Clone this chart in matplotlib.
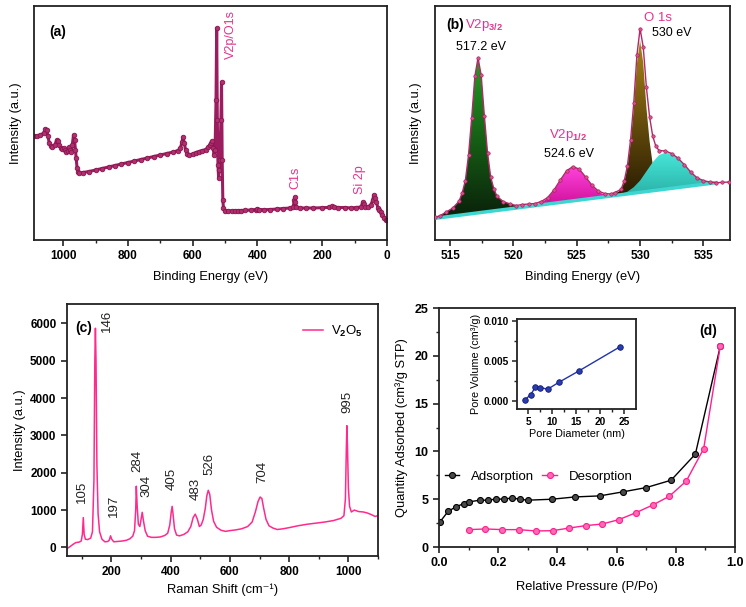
import numpy as np
import matplotlib
matplotlib.use('Agg')
import matplotlib.pyplot as plt
from matplotlib.colors import LinearSegmentedColormap
from matplotlib.ticker import MultipleLocator, FormatStrFormatter

plt.rcParams['font.family'] = ['Liberation Sans', 'DejaVu Sans']
plt.rcParams['font.weight'] = 'bold'
plt.rcParams['mathtext.fontset'] = 'custom'
plt.rcParams['mathtext.rm'] = 'Liberation Sans'
plt.rcParams['mathtext.it'] = 'Liberation Sans:italic'
plt.rcParams['mathtext.bf'] = 'Liberation Sans:bold'

PINK_TXT = '#e5338c'

# ---------------- (a) XPS survey ----------------
survey_ev = [1090, 1080, 1070, 1060, 1055, 1051, 1047, 1043, 1038, 1033, 1026, 1020, 1016,
             1012, 1007, 1003, 998, 994, 990, 986, 982, 978, 975, 972, 968, 965, 962, 960,
             957, 954, 950, 940, 920, 900, 880, 860, 840, 820, 800, 780, 760, 740, 720, 700,
             680, 660, 645, 638, 633, 630, 626, 622, 617, 612, 600, 590, 580, 570, 560, 552,
             547, 543, 540, 537, 534, 531, 528, 526, 524, 522, 520, 518, 516, 513, 511, 509,
             507, 505, 500, 490, 480, 470, 460, 450, 440, 420, 405, 400, 395, 380, 360, 340,
             320, 300, 290, 286, 285, 283, 280, 270, 250, 230, 200, 180, 170, 165, 150, 130,
             110, 95, 80, 75, 72, 68, 60, 50, 44, 41, 38, 33, 28, 24, 20, 15, 8, 3, 0]
survey_int = [104, 104, 105, 107, 111, 110, 104, 97, 94, 93, 95, 100, 99,
              95, 92, 91, 92, 90, 88, 89, 93, 90, 88, 95, 105, 100, 90, 82,
              72, 68, 67, 67.5, 68.5, 70, 71.5, 73, 74.5, 76, 77.5, 79, 80.5, 82, 83.5, 85,
              86.5, 88, 89.5, 92, 98, 103, 97, 90, 86, 85, 86, 87.5, 88.5, 89.5, 90.5, 93,
              95, 97, 99, 92, 85, 90, 140, 211.7, 120, 75, 62, 70, 80, 120, 158, 80,
              40, 32, 29.3, 29, 29.3, 29.3, 29.5, 29.5, 29.7, 30, 30.5, 31.5, 30.5, 30.3, 30.5, 31,
              31.5, 32, 33, 40, 42.7, 38, 33, 32, 32, 32, 32.3, 32.6, 34, 33, 32.5, 32.5,
              32, 32.5, 33, 38, 36, 33, 33, 35, 40, 45, 42, 38, 32, 30, 28, 25, 22, 20, 20]

# ---------------- (b) V2p / O1s high resolution ----------------
base_ev = [513.8, 536.0]
base_int = [21.7, 57.3]

v2p32_ev = [513.8, 514.2, 514.7, 515.2, 515.7, 515.95, 516.2, 516.45, 516.7, 516.95, 517.2,
            517.45, 517.7, 517.95, 518.2, 518.45, 518.7, 519.2, 519.7, 520.2, 520.7]
v2p32_int = [21.7, 24.3, 28.1, 31.9, 38.7, 47.1, 59.5, 84.9, 122.3, 163.7, 182.2,
             164.6, 124.0, 87.4, 62.8, 51.2, 43.6, 38.4, 36.2, 34.0, 32.8]

v2p12_ev = [521.2, 521.7, 522.2, 522.7, 523.2, 523.7, 524.2, 524.7, 525.2, 525.7, 526.2,
            526.7, 527.2, 527.7, 528.2]
v2p12_int = [33.6, 35.0, 37.4, 41.8, 49.5, 59.6, 69.1, 73.5, 70.7, 62.8, 54.3,
             48.2, 45.4, 44.6, 44.8]

o1s_ev = [527.8, 528.0, 528.5, 528.75, 529.0, 529.25, 529.5, 529.75, 530.0, 530.25, 530.5,
          530.75, 531.0, 531.25, 531.5, 532.0, 532.3]
o1s_int = [44.2, 46.0, 49.9, 57.7, 72.1, 96.5, 130.9, 176.3, 199.7, 177.1, 132.5,
           98.9, 75.3, 61.7, 54.7, 52.4, 51.4]

oh_ev = [528.0, 528.5, 529.0, 529.5, 530.0, 530.5, 531.0, 531.5, 532.0, 532.5, 533.0,
         533.5, 534.0, 534.5, 535.0, 535.5, 536.0]
oh_int = [44.5, 46.0, 48.3, 52.8, 59.4, 68.6, 77.8, 84.9, 87.5, 86.5, 81.8,
          75.3, 68.0, 62.2, 59.4, 58.0, 57.3]

env_ev = [513.8, 514.2, 514.7, 515.2, 515.7, 515.95, 516.2, 516.45, 516.7, 516.95, 517.2,
          517.45, 517.7, 517.95, 518.2, 518.45, 518.7, 519.2, 519.7, 520.2, 520.7, 521.2,
          521.7, 522.2, 522.7, 523.2, 523.7, 524.2, 524.7, 525.2, 525.7, 526.2, 526.7,
          527.2, 527.7, 528.0, 528.5, 528.75, 529.0, 529.25, 529.5, 529.75, 530.0, 530.25,
          530.5, 530.75, 531.0, 531.25, 531.5, 532.0, 532.5, 533.0, 533.5, 534.0, 534.5,
          535.0, 535.5, 536.0, 536.5, 537.0]
env_int = [22.7, 24.3, 28.1, 31.9, 38.7, 47.1, 59.5, 84.9, 122.3, 163.7, 182.2,
           164.6, 124.0, 87.4, 62.8, 51.2, 43.6, 38.4, 36.2, 34.5, 35.5, 36.0,
           36.5, 38.5, 42.5, 50.0, 60.0, 69.3, 73.5, 70.8, 63.0, 54.8, 49.0,
           46.5, 46.0, 47.5, 50.6, 59.1, 74.3, 100.3, 136.8, 184.8, 211.4, 192.9,
           152.6, 123.2, 103.8, 93.6, 89.5, 89.0, 86.5, 81.8, 75.3, 68.0, 62.2,
           59.4, 58.0, 57.3, 57.6, 58.0]

# ---------------- (c) Raman ----------------
raman_shift = [50, 60, 70, 80, 90, 98, 102, 105, 108, 112, 120, 130, 136, 141, 144, 146, 148,
               151, 155, 160, 168, 178, 188, 193, 197, 201, 208, 220, 235, 250, 262, 272, 278,
               282, 284, 287, 291, 296, 300, 304, 308, 314, 322, 335, 350, 365, 380, 390, 397,
               402, 405, 408, 413, 420, 430, 445, 458, 468, 476, 483, 490, 497, 503, 510, 517,
               522, 527, 532, 538, 545, 555, 570, 585, 600, 620, 640, 660, 675, 686, 695, 702,
               708, 714, 722, 732, 745, 760, 780, 800, 830, 860, 890, 920, 950, 975, 985, 990,
               993, 995, 997, 1000, 1004, 1010, 1020, 1035, 1050, 1065, 1080, 1090, 1100]
raman_int = [-30, 20, 80, 130, 140, 170, 350, 800, 350, 220, 210, 250, 420, 1800, 5000, 5870, 5000,
             2200, 900, 420, 220, 150, 160, 200, 310, 220, 150, 160, 170, 190, 230, 300, 450,
             1000, 1640, 1100, 620, 560, 750, 940, 720, 450, 300, 270, 270, 280, 320, 380, 600,
             950, 1100, 900, 500, 330, 310, 350, 420, 560, 800, 890, 760, 560, 600, 750, 1050,
             1380, 1530, 1420, 1000, 700, 540, 460, 430, 450, 470, 500, 560, 680, 950, 1230, 1350,
             1310, 1050, 750, 580, 520, 480, 500, 530, 580, 620, 650, 680, 720, 780, 850, 1300,
             2600, 3260, 2700, 1600, 1100, 950, 1000, 960, 950, 920, 870, 830, 850]
peak_labels = ['105', '146', '197', '284', '304', '405', '483', '526', '704', '995']
peak_label_x = [101, 185, 208, 286, 317, 404, 483, 531, 708, 998]
peak_label_y = [1180, 5780, 820, 2030, 1360, 1535, 1270, 1940, 1715, 3590]

# ---------------- (d) N2 isotherm + pore size ----------------
ads_p = [0.003, 0.031, 0.057, 0.084, 0.10, 0.138, 0.166, 0.194, 0.219, 0.247, 0.272, 0.30,
         0.381, 0.459, 0.543, 0.621, 0.70, 0.784, 0.866, 0.95]
ads_q = [2.62, 3.74, 4.2, 4.55, 4.72, 4.9, 4.9, 5.03, 5.0, 5.14, 5.0, 4.9,
         5.0, 5.24, 5.35, 5.77, 6.22, 6.99, 9.72, 20.98]
des_p = [0.10, 0.157, 0.214, 0.269, 0.326, 0.384, 0.44, 0.496, 0.552, 0.608, 0.666, 0.723,
         0.778, 0.835, 0.894, 0.95]
des_q = [1.82, 1.89, 1.82, 1.82, 1.68, 1.71, 1.99, 2.24, 2.41, 2.87, 3.6, 4.41,
         5.31, 6.89, 10.28, 20.98]
pore_d = [4.3, 5.55, 6.5, 7.55, 9.07, 11.4, 15.5, 24.0]
pore_v = [0.00012, 0.00074, 0.0017, 0.00165, 0.00144, 0.0023, 0.0037, 0.0067]


def style(ax, fs=8.5):
    for s in ax.spines.values():
        s.set_linewidth(1.3)
        s.set_color('#222222')
    ax.tick_params(which='major', direction='out', length=4.5, width=1.2,
                   labelsize=fs, pad=3, color='#222222')
    ax.tick_params(which='minor', direction='out', length=2.5, width=1.0, color='#222222')


def grad_fill(ax, x, y, c_top, c_bot, z):
    poly, = ax.fill(x, y, facecolor='none', edgecolor='none', zorder=z)
    cmap = LinearSegmentedColormap.from_list('g', [c_bot, c_top])
    im = ax.imshow(np.linspace(0, 1, 256).reshape(-1, 1), cmap=cmap, aspect='auto',
                   origin='lower', extent=[min(x), max(x), min(y), max(y)], zorder=z)
    im.set_clip_path(poly)


fig = plt.figure(figsize=(7.46, 6.07), dpi=100)

# --- (a)
ax = fig.add_axes([0.0456, 0.6046, 0.4732, 0.3855])
ax.plot(survey_ev, survey_int, '-o', color='#9b1d5f', lw=2.2, ms=3.3,
        mfc='#b0306e', mec='#8a1550', mew=0.6)
ax.set_xlim(1090, 0)
ax.set_ylim(0, 234)
ax.set_yticks([])
ax.xaxis.set_major_locator(MultipleLocator(200))
ax.xaxis.set_minor_locator(MultipleLocator(100))
style(ax)
ax.set_xlabel('Binding Energy (eV)', fontsize=9.3, labelpad=6)
ax.set_ylabel('Intensity (a.u.)', fontsize=9.3, labelpad=9)
ax.text(0.068, 0.889, '(a)', transform=ax.transAxes, fontsize=10, ha='center', va='center')
ax.text(482, 206, 'V2p/O1s', rotation=90, color=PINK_TXT, fontsize=9, weight='normal',
        ha='center', va='center')
ax.text(284, 62, 'C1s', rotation=90, color=PINK_TXT, fontsize=9, weight='normal',
        ha='center', va='center')
ax.text(83, 60, 'Si 2p', rotation=90, color=PINK_TXT, fontsize=9, weight='normal',
        ha='center', va='center')

# --- (b)
ax = fig.add_axes([0.5831, 0.6046, 0.3954, 0.3855])
grad_fill(ax, v2p32_ev, v2p32_int, '#22a022', '#0a200a', 2)
grad_fill(ax, v2p12_ev, v2p12_int, '#ff44dd', '#d0109a', 2)
grad_fill(ax, o1s_ev, o1s_int, '#a88418', '#2a1c02', 2)
grad_fill(ax, oh_ev, oh_int, '#46e6d8', '#2ab0a6', 3)
ax.plot(base_ev, base_int, color='#3ed6d0', lw=2.5, zorder=4)
ax.plot(env_ev, env_int, '-o', color='#b02a68', lw=1.0, ms=2.5,
        mfc='#d8508c', mec='#a01858', mew=0.4, zorder=5)
ax.set_xlim(513.8, 537.1)
ax.set_ylim(0, 234)
ax.set_yticks([])
ax.xaxis.set_major_locator(MultipleLocator(5))
ax.xaxis.set_minor_locator(MultipleLocator(2.5))
style(ax)
ax.set_xlabel('Binding Energy (eV)', fontsize=9.3, labelpad=6)
ax.set_ylabel('Intensity (a.u.)', fontsize=9.3, labelpad=9)
ax.text(515.4, 215, '(b)', fontsize=10, ha='center', va='center')
ax.text(516.2, 215, 'V2p$_{3/2}$', color=PINK_TXT, fontsize=9.5, weight='normal',
        ha='left', va='center')
ax.text(517.4, 193, '517.2 eV', fontsize=9, weight='normal', ha='center', va='center')
ax.text(524.35, 105, 'V2p$_{1/2}$', color=PINK_TXT, fontsize=9.5, weight='normal',
        ha='center', va='center')
ax.text(524.4, 86, '524.6 eV', fontsize=9, weight='normal', ha='center', va='center')
ax.text(531.4, 222, 'O 1s', color=PINK_TXT, fontsize=9.5, weight='normal',
        ha='center', va='center')
ax.text(532.5, 207, '530 eV', fontsize=9, weight='normal', ha='center', va='center')

# --- (c)
ax = fig.add_axes([0.0898, 0.0840, 0.4169, 0.4152])
ax.plot(raman_shift, raman_int, color='#ff2a8c', lw=1.1, label='V$_2$O$_5$')
ax.set_xlim(50, 1100)
ax.set_ylim(-230, 6520)
ax.xaxis.set_major_locator(MultipleLocator(200))
ax.xaxis.set_minor_locator(MultipleLocator(100))
ax.yaxis.set_major_locator(MultipleLocator(1000))
style(ax)
ax.set_xlabel('Raman Shift (cm⁻¹)', fontsize=9.3, labelpad=4)
ax.set_ylabel('Intensity (a.u.)', fontsize=9.3, labelpad=3)
for t, px, py in zip(peak_labels, peak_label_x, peak_label_y):
    ax.text(px, py, t, rotation=90, fontsize=9.5, weight='normal', color='#222222',
            ha='center', va='bottom')
ax.text(107, 5866, '(c)', fontsize=10, ha='center', va='center')
ax.legend(loc='upper right', bbox_to_anchor=(0.99, 0.97), frameon=False,
          prop={'weight': 'normal', 'size': 9.5}, handlelength=1.5, handletextpad=0.6)

# --- (d)
ax = fig.add_axes([0.5885, 0.0988, 0.3968, 0.3937])
ax.plot(ads_p, ads_q, '-o', color='black', lw=1.0, ms=4.3, mfc='#4a4a4a', mec='black',
        mew=0.8, label='Adsorption')
ax.plot(des_p, des_q, '-o', color='#ff1f8e', lw=1.0, ms=4.3, mfc='#ff6ab4', mec='#ff1f8e',
        mew=0.8, label='Desorption')
ax.set_xlim(0, 1.0)
ax.set_ylim(0, 25)
ax.xaxis.set_major_locator(MultipleLocator(0.2))
ax.xaxis.set_minor_locator(MultipleLocator(0.1))
ax.xaxis.set_major_formatter(FormatStrFormatter('%.1f'))
ax.yaxis.set_major_locator(MultipleLocator(5))
ax.yaxis.set_minor_locator(MultipleLocator(2.5))
style(ax, fs=9)
ax.set_xlabel('Relative Pressure (P/Po)', fontsize=9.3, labelpad=8)
ax.set_ylabel('Quantity Adsorbed (cm³/g STP)', fontsize=9.3, labelpad=5)
ax.text(0.91, 22.55, '(d)', fontsize=10, ha='center', va='center')
ax.legend(loc='center left', bbox_to_anchor=(-0.02, 0.295), ncol=2, frameon=False,
          prop={'weight': 'normal', 'size': 9.5}, handlelength=1.1, handletextpad=0.9,
          columnspacing=0.6)

# inset
ins = fig.add_axes([0.693, 0.3262, 0.1595, 0.1483])
ins.plot(pore_d, pore_v, '-o', color='#2233aa', lw=1.0, ms=4, mfc='#2a3cb0', mec='#101a70',
         mew=0.6)
ins.set_xlim(2.7, 27.4)
ins.set_ylim(-0.00103, 0.0102)
ins.xaxis.set_major_locator(MultipleLocator(5))
ins.xaxis.set_minor_locator(MultipleLocator(2.5))
ins.yaxis.set_major_locator(MultipleLocator(0.005))
ins.yaxis.set_minor_locator(MultipleLocator(0.0025))
ins.yaxis.set_major_formatter(FormatStrFormatter('%.3f'))
style(ins, fs=7.3)
ins.tick_params(which='major', length=3.5, width=1.1, pad=2)
ins.tick_params(which='minor', length=2)
ins.set_xlabel('Pore Diameter (nm)', fontsize=7.8, labelpad=2)
ins.set_ylabel('Pore Volume (cm³/g)', fontsize=7.8, labelpad=2)

fig.savefig('out.png', dpi=100)
